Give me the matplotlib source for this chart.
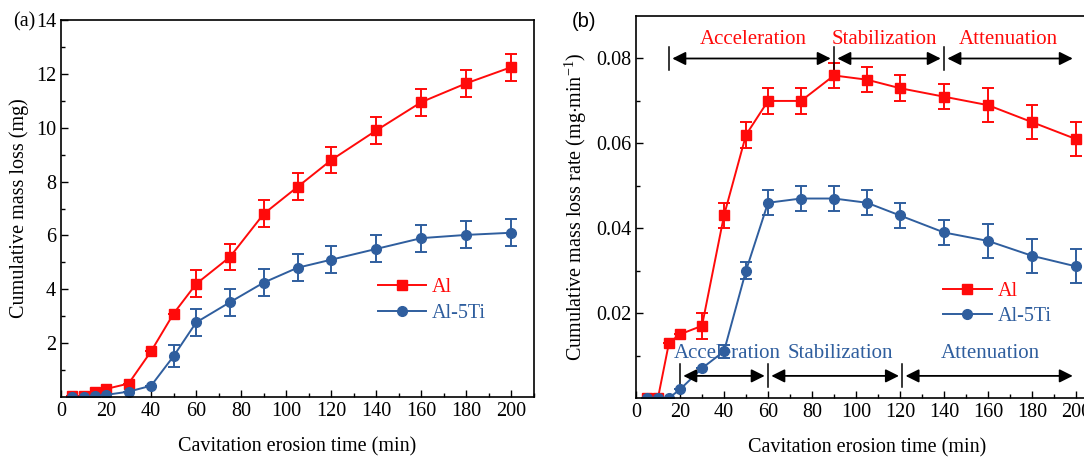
import matplotlib
matplotlib.use("Agg")
import matplotlib.pyplot as plt
from matplotlib.ticker import MultipleLocator, FixedLocator
from matplotlib.lines import Line2D

plt.rcParams['font.family'] = ['Liberation Serif', 'DejaVu Serif']
plt.rcParams['mathtext.fontset'] = 'custom'
plt.rcParams['mathtext.rm'] = 'Liberation Serif'

# ---------------- data ----------------
time = [5, 10, 15, 20, 30, 40, 50, 60, 75, 90, 105, 120, 140, 160, 180, 200]

loss_al = [0.02, 0.05, 0.2, 0.3, 0.5, 1.7, 3.1, 4.2, 5.2, 6.8, 7.8, 8.8, 9.9, 10.95, 11.65, 12.25]
loss_al_err = [0, 0, 0, 0, 0, 0, 0, 0.5, 0.5, 0.5, 0.5, 0.5, 0.5, 0.5, 0.5, 0.5]
loss_ti = [0.0, 0.0, 0.02, 0.08, 0.2, 0.42, 1.52, 2.77, 3.52, 4.25, 4.8, 5.1, 5.5, 5.9, 6.02, 6.1]
loss_ti_err = [0, 0, 0, 0, 0, 0, 0.4, 0.5, 0.5, 0.5, 0.5, 0.5, 0.5, 0.5, 0.5, 0.5]

rate_al = [0, 0, 0.013, 0.015, 0.017, 0.043, 0.062, 0.070, 0.070, 0.076, 0.075, 0.073, 0.071, 0.069, 0.065, 0.061]
rate_al_err = [0, 0, 0, 0, 0.003, 0.003, 0.003, 0.003, 0.003, 0.003, 0.003, 0.003, 0.003, 0.004, 0.004, 0.004]
rate_ti = [0, 0, 0, 0.002, 0.007, 0.011, 0.030, 0.046, 0.047, 0.047, 0.046, 0.043, 0.039, 0.037, 0.0335, 0.031]
rate_ti_err = [0, 0, 0, 0, 0, 0.0015, 0.002, 0.003, 0.003, 0.003, 0.003, 0.003, 0.003, 0.004, 0.004, 0.004]

series_labels = ['Al', 'Al-5Ti']
phase_names = ['Acceleration', 'Stabilization', 'Attenuation']
al_phase_bounds = [15, 90, 140, 200]
ti_phase_bounds = [20, 60, 121, 200]

RED = '#FF0A0A'
BLUE = '#2F5E9E'
FS = 14.5

fig = plt.figure(figsize=(10.84, 4.59), dpi=100)
axa = fig.add_axes([0.0563, 0.135, 0.4363, 0.8215])
axb = fig.add_axes([0.5867, 0.133, 0.4263, 0.832])

def style(ax):
    ax.tick_params(which='both', direction='in', top=False, right=False, labelsize=FS)
    ax.tick_params(which='major', length=5, width=1)
    ax.tick_params(which='minor', length=3, width=1)
    for s in ax.spines.values():
        s.set_linewidth(1.2)
    ax.xaxis.set_major_locator(MultipleLocator(20))
    ax.xaxis.set_minor_locator(MultipleLocator(10))

def draw(ax, y1, e1, y2, e2):
    ax.errorbar(time, y1, yerr=e1, color=RED, marker='s', ms=6.5, lw=1.4,
                elinewidth=1.4, capsize=4, capthick=1.4)
    ax.errorbar(time, y2, yerr=e2, color=BLUE, marker='o', ms=7, lw=1.4,
                elinewidth=1.4, capsize=4, capthick=1.4)

def legend(ax, anchor, spacing):
    handles = [Line2D([], [], color=RED, marker='s', ms=6.5, lw=1.4),
               Line2D([], [], color=BLUE, marker='o', ms=7, lw=1.4)]
    leg = ax.legend(handles, series_labels, loc='center left', bbox_to_anchor=anchor,
                    frameon=False, fontsize=FS, handlelength=2.4, handletextpad=0.3,
                    labelspacing=spacing, borderpad=0, borderaxespad=0)
    for t, c in zip(leg.get_texts(), [RED, BLUE]):
        t.set_color(c)

# ---------------- panel (a) ----------------
draw(axa, loss_al, loss_al_err, loss_ti, loss_ti_err)
style(axa)
axa.set_xlim(0, 210)
axa.set_ylim(0, 14)
axa.yaxis.set_major_locator(FixedLocator([2, 4, 6, 8, 10, 12, 14]))
axa.yaxis.set_minor_locator(FixedLocator([1, 3, 5, 7, 9, 11, 13]))
axa.set_xlabel('Cavitation erosion time (min)', fontsize=FS, labelpad=12)
axa.set_ylabel('Cumulative mass loss (mg)', fontsize=FS, labelpad=5)
legend(axa, (0.67, 0.257), 0.35)
fig.text(0.012, 0.953, '(a)', fontsize=FS, va='center', ha='left')

# ---------------- panel (b) ----------------
draw(axb, rate_al, rate_al_err, rate_ti, rate_ti_err)
style(axb)
axb.set_xlim(0, 210)
axb.set_ylim(0, 0.09)
axb.yaxis.set_major_locator(FixedLocator([0.02, 0.04, 0.06, 0.08]))
axb.yaxis.set_minor_locator(FixedLocator([0.01, 0.03, 0.05, 0.07]))
axb.yaxis.set_major_formatter(matplotlib.ticker.FormatStrFormatter('%.2f'))
axb.set_xlabel('Cavitation erosion time (min)', fontsize=FS, labelpad=12)
axb.set_ylabel(r'Cumulative mass loss rate (mg$\cdot$min$^{-1}$)', fontsize=FS, labelpad=5)
legend(axb, (0.665, 0.246), 0.3)
fig.text(0.527, 0.953, '(b)', fontsize=FS, va='center', ha='left', family='Liberation Sans')

def phases(ax, bounds, yarrow, ytext, color, text_x):
    arrow = dict(arrowstyle='<|-|>', color='black', lw=1.3, mutation_scale=20,
                 shrinkA=0, shrinkB=0)
    for i in range(3):
        x0, x1 = bounds[i], bounds[i + 1]
        ax.annotate('', xy=(x1 - 1.5, yarrow), xytext=(x0 + 1.5, yarrow), arrowprops=arrow)
        ax.text(text_x[i], ytext, phase_names[i], color=color, fontsize=15,
                ha='center', va='center')
    for b in bounds[:3]:
        ax.plot([b, b], [yarrow - 0.0027, yarrow + 0.0027], color='black', lw=1.1)

phases(axb, al_phase_bounds, 0.08, 0.0845, RED, [53.2, 112.7, 169.3])
phases(axb, ti_phase_bounds, 0.0052, 0.0104, BLUE, [41.3, 93, 161])

fig.savefig('out.png', dpi=100)
